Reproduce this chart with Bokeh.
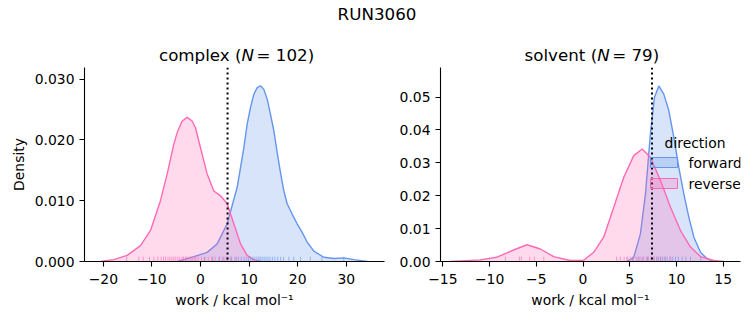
from bokeh.plotting import figure
from bokeh.layouts import column, row
from bokeh.models import (Span, Label, BoxAnnotation, FixedTicker,
                          NumeralTickFormatter, ColumnDataSource)
from bokeh.embed import file_html
from bokeh.resources import INLINE

# ---------------- data ----------------
suptitle = "RUN3060"
phases = ["complex", "solvent"]
phase_n = [102, 79]
directions = ["forward", "reverse"]
dg_lines = [5.57, 7.38]

# complex KDE curves
complex_fwd_x = [-4.80, -1.37, 1.37, 3.43, 5.49, 7.55, 8.92, 9.61, 10.29, 10.98, 11.67,
                 12.35, 13.04, 13.73, 14.41, 15.10, 15.79, 16.47, 17.16, 17.84, 18.87,
                 19.90, 20.93, 21.96, 23.33, 25.39, 27.45, 29.51, 31.57, 34.31]
complex_fwd_y = [0.0, 0.0008, 0.0015, 0.0029, 0.0062, 0.0122, 0.0187, 0.0226, 0.0253,
                 0.0275, 0.0286, 0.0289, 0.0283, 0.0267, 0.0242, 0.0215, 0.0179, 0.0146,
                 0.0116, 0.0095, 0.0078, 0.0062, 0.0048, 0.0032, 0.0017, 0.0007, 0.0005,
                 0.0006, 0.0003, 0.0]
complex_rev_x = [-20.59, -17.84, -15.10, -12.35, -10.29, -8.24, -6.86, -5.49, -4.80, -3.77,
                 -2.74, -1.72, -1.03, 0.0, 1.37, 2.74, 4.12, 5.49, 6.86, 8.24, 9.61, 10.98, 12.35]
complex_rev_y = [0.0, 0.0003, 0.0010, 0.0026, 0.0051, 0.0100, 0.0144, 0.0193, 0.0212, 0.0231,
                 0.0237, 0.0231, 0.0220, 0.0187, 0.0144, 0.0116, 0.0108, 0.0095, 0.0062,
                 0.0029, 0.0010, 0.0003, 0.0]

# solvent KDE curves
solvent_fwd_x = [4.71, 5.43, 6.14, 6.68, 7.21, 7.64, 8.11, 8.64, 9.18, 9.71, 10.25, 10.79,
                 11.32, 11.86, 12.57, 13.29, 14.0]
solvent_fwd_y = [0.0, 0.0013, 0.0084, 0.0205, 0.0388, 0.0499, 0.0534, 0.0509, 0.0459, 0.0378,
                 0.0286, 0.0205, 0.0135, 0.0074, 0.0028, 0.0008, 0.0]
solvent_rev_x = [-14.21, -11.0, -9.21, -7.43, -6.0, -4.57, -3.14, -1.36, 0.07, 1.14, 2.21,
                 3.29, 4.36, 5.43, 6.32, 7.21, 8.29, 9.36, 10.43, 11.5, 12.57, 14.0, 15.07]
solvent_rev_y = [0.0, 0.0005, 0.0013, 0.0035, 0.0051, 0.0038, 0.0015, 0.0003, 0.0004, 0.0028,
                 0.0074, 0.0165, 0.0256, 0.0322, 0.0342, 0.0317, 0.0246, 0.0165, 0.0094,
                 0.0044, 0.0015, 0.0003, 0.0]

# rug (individual work values)
complex_fwd_work = [0.8, 2.5, 3.9, 4.8, 5.6, 6.4, 7.1, 7.8, 8.4, 9.0, 9.5, 9.9, 10.3, 10.8,
                    11.2, 11.6, 12.0, 12.3, 12.7, 13.1, 13.5, 13.9, 14.3, 14.8, 15.3, 15.9,
                    16.5, 17.1, 18.2, 19.2, 20.6, 22.6, 25.0, 29.5]
complex_rev_work = [-15.2, -12.7, -11.8, -10.5, -9.6, -8.8, -8.1, -7.6, -7.2, -6.7, -6.3,
                    -5.9, -5.5, -5.1, -4.7, -4.3, -3.8, -3.5, -3.1, -2.8, -2.4, -2.0, -1.7,
                    -1.3, -1.0, -0.5, 0.2, 0.9, 1.6, 2.3, 3.0, 3.8, 4.5, 5.3, 6.2, 7.4]
solvent_fwd_work = [4.7, 5.3, 5.9, 6.4, 6.9, 7.3, 7.6, 7.9, 8.1, 8.3, 8.5, 8.8, 9.0, 9.3,
                    9.6, 9.9, 10.2, 10.6, 11.0, 11.5, 12.6]
solvent_rev_work = [-8.3, -6.8, -6.6, -5.7, -5.2, -4.2, 3.6, 4.0, 4.4, 4.8, 5.1, 5.4, 5.7,
                    6.0, 6.2, 6.5, 6.8, 7.0, 7.3, 7.6, 7.9, 8.3, 8.7, 9.4]

# axes
complex_xticks = [-20, -10, 0, 10, 20, 30]
complex_xlabels = ["\u221220", "\u221210", "0", "10", "20", "30"]
complex_yticks = [0.0, 0.01, 0.02, 0.03]
solvent_xticks = [-15, -10, -5, 0, 5, 10, 15]
solvent_xlabels = ["\u221215", "\u221210", "\u22125", "0", "5", "10", "15"]
solvent_yticks = [0.0, 0.01, 0.02, 0.03, 0.04, 0.05]
complex_xlim = (-23.88, 37.88)
complex_ylim = (0.0, 0.0319)
solvent_xlim = (-15.25, 16.85)
solvent_ylim = (0.0, 0.0590)
xlabel = "work / kcal mol\u207b\u00b9"
ylabel = "Density"
legend_title = "direction"

# ---------------- styling ----------------
FONT = "DejaVu Sans"
COL = {"forward": "#6495ED", "reverse": "#FF69B4"}
TICK_FS = "13.9px"
TITLE_FS = "16.7px"
TOP_H = 66
FRAME_H = 194


def make_panel(width, left_border, right_border, xlim, ylim, xticks, xlabels, yticks,
               yfmt, curves, rugs, dg, show_ylabel):
    p = figure(width=width, height=325 - TOP_H, x_range=xlim, y_range=ylim,
               toolbar_location=None, output_backend="svg", title=None,
               min_border_left=left_border, min_border_right=right_border,
               min_border_top=67 - TOP_H, min_border_bottom=325 - 67 - FRAME_H)
    p.outline_line_color = None
    p.grid.visible = False
    for ax in (p.xaxis[0], p.yaxis[0]):
        ax.axis_line_color = "black"
        ax.axis_line_width = 1.1
        ax.major_tick_line_width = 1.1
        ax.major_tick_out = 5
        ax.major_tick_in = 0
        ax.minor_tick_line_color = None
        ax.major_label_text_font = FONT
        ax.major_label_text_font_size = TICK_FS
        ax.major_label_text_color = "black"
        ax.major_label_standoff = 5
        ax.axis_label_text_font = FONT
        ax.axis_label_text_font_size = TICK_FS
        ax.axis_label_text_font_style = "normal"
        ax.axis_label_text_color = "black"
    p.xaxis.ticker = FixedTicker(ticks=xticks)
    p.xaxis.major_label_overrides = {float(t): s for t, s in zip(xticks, xlabels)}
    p.xaxis.major_label_standoff = 7
    p.xaxis.axis_label = xlabel
    p.xaxis.axis_label_standoff = 5
    p.yaxis.ticker = FixedTicker(ticks=yticks)
    p.yaxis.formatter = NumeralTickFormatter(format=yfmt)
    if show_ylabel:
        p.yaxis.axis_label = ylabel
        p.yaxis.axis_label_standoff = 5

    rug_h = 0.025 * (ylim[1] - ylim[0])
    for d in directions:
        xs, ys = curves[d]
        src = ColumnDataSource(dict(x=xs, y=ys))
        p.varea(x="x", y1=0, y2="y", source=src, fill_color=COL[d], fill_alpha=0.25)
        p.line(x="x", y="y", source=src, line_color=COL[d], line_width=1.4)
    for d in directions:
        w = rugs[d]
        p.segment(x0=w, x1=w, y0=[0] * len(w), y1=[rug_h] * len(w),
                  line_color=COL[d], line_alpha=0.6, line_width=1)

    p.add_layout(Span(location=dg, dimension="height", line_color="black",
                      line_width=2, line_dash="2 3"))
    return p


p1 = make_panel(394, 84, 10, complex_xlim, complex_ylim, complex_xticks, complex_xlabels,
                complex_yticks, "0.000",
                {"forward": (complex_fwd_x, complex_fwd_y), "reverse": (complex_rev_x, complex_rev_y)},
                {"forward": complex_fwd_work, "reverse": complex_rev_work},
                dg_lines[0], True)
p2 = make_panel(359, 46, 13, solvent_xlim, solvent_ylim, solvent_xticks, solvent_xlabels,
                solvent_yticks, "0.00",
                {"forward": (solvent_fwd_x, solvent_fwd_y), "reverse": (solvent_rev_x, solvent_rev_y)},
                {"forward": solvent_fwd_work, "reverse": solvent_rev_work},
                dg_lines[1], False)

# legend on the solvent panel (screen offsets from the frame's lower-left corner)
legend_rows = [(94, 104, 99), (73, 83, 78)]
for d, (b, t, yc) in zip(directions, legend_rows):
    p2.add_layout(BoxAnnotation(left=210, right=237, bottom=b, top=t,
                                left_units="screen", right_units="screen",
                                bottom_units="screen", top_units="screen",
                                fill_color=COL[d], fill_alpha=0.25,
                                line_color=COL[d], line_alpha=1.0, line_width=1))
    p2.add_layout(Label(x=248, y=yc, x_units="screen", y_units="screen", text=d,
                        text_align="left", text_baseline="middle", text_font=FONT,
                        text_font_size=TICK_FS, text_color="black"))
p2.add_layout(Label(x=254.5, y=119, x_units="screen", y_units="screen", text=legend_title,
                    text_align="center", text_baseline="middle", text_font=FONT,
                    text_font_size=TICK_FS, text_color="black"))

# top strip: suptitle and panel titles ("<phase> (N = n)" with italic N)
top_fig = figure(width=753, height=TOP_H, x_axis_type=None, y_axis_type=None,
                 toolbar_location=None, output_backend="svg", title=None, min_border=0)
top_fig.outline_line_color = None
top_fig.grid.visible = False
top_fig.add_layout(Label(x=376.5, y=TOP_H - 13, x_units="screen", y_units="screen",
                         text=suptitle, text_align="center", text_baseline="middle",
                         text_font=FONT, text_font_size=TITLE_FS, text_color="black"))
title_n_x = [241, 596.7]
ty = TOP_H - 54
for ph, n, nx in zip(phases, phase_n, title_n_x):
    top_fig.add_layout(Label(x=nx, y=ty, x_units="screen", y_units="screen",
                             text=f"{ph} (", text_align="right", text_baseline="middle",
                             text_font=FONT, text_font_size=TITLE_FS, text_color="black"))
    top_fig.add_layout(Label(x=nx, y=ty, x_units="screen", y_units="screen",
                             text="N", text_align="left", text_baseline="middle",
                             text_font=FONT, text_font_size=TITLE_FS,
                             text_font_style="italic", text_color="black"))
    top_fig.add_layout(Label(x=nx + 15, y=ty, x_units="screen", y_units="screen",
                             text=f"= {n})", text_align="left", text_baseline="middle",
                             text_font=FONT, text_font_size=TITLE_FS, text_color="black"))

layout = column(top_fig, row(p1, p2, spacing=0), spacing=0)
open("out.html", "w").write(file_html(layout, INLINE))
